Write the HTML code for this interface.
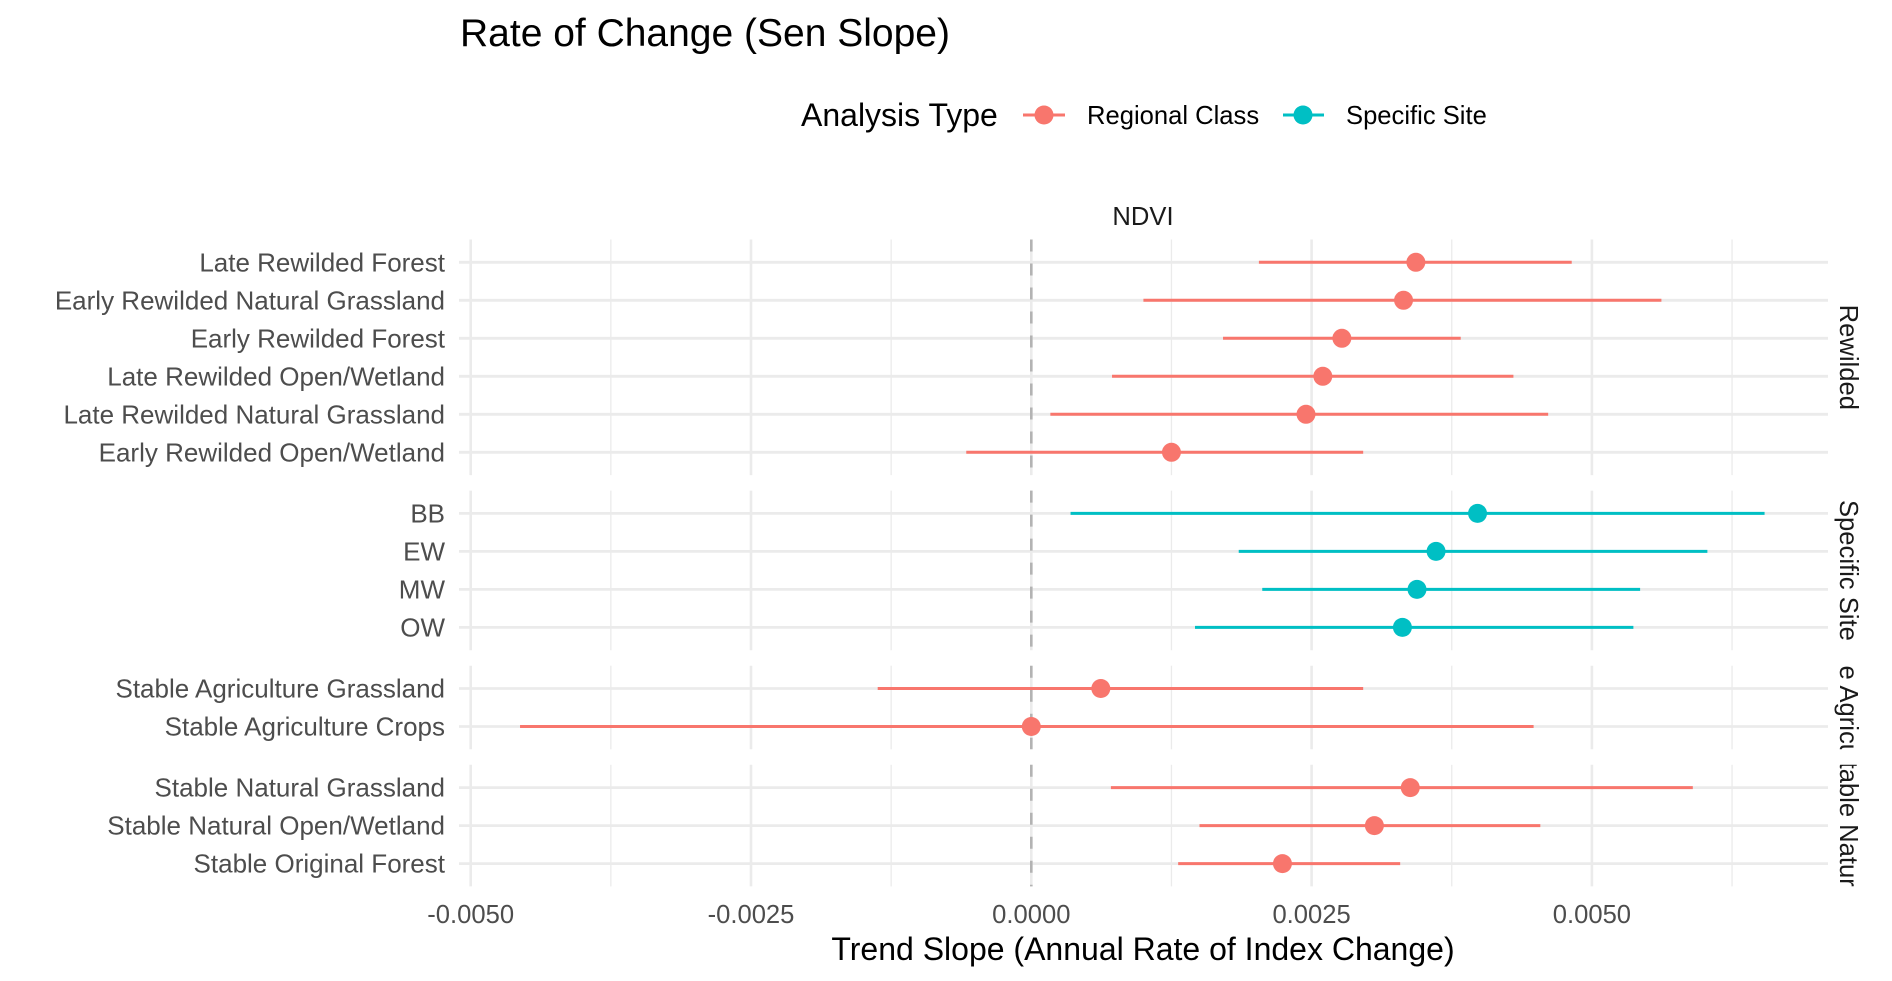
<!DOCTYPE html>
<html><head><meta charset="utf-8"><style>
html,body{margin:0;padding:0;background:#fff;}
svg{display:block;font-family:"Liberation Sans",Arial,sans-serif;}
</style></head><body>
<svg id="chart" width="1892" height="981" viewBox="0 0 1892 981" xmlns="http://www.w3.org/2000/svg">
<text x="460" y="46" font-size="39" fill="#000">Rate of Change (Sen Slope)</text>
<g>
<text x="801" y="126" font-size="32" fill="#000">Analysis Type</text>
<g>
<line x1="1023" y1="115" x2="1065" y2="115" stroke="#F8766D" stroke-width="3"/>
<circle cx="1044" cy="115" r="9.5" fill="#F8766D"/>
<text x="1087" y="124" font-size="25.6" fill="#000">Regional Class</text>
</g>
<g>
<line x1="1283" y1="115" x2="1324" y2="115" stroke="#00BFC4" stroke-width="3"/>
<circle cx="1303" cy="115" r="9.5" fill="#00BFC4"/>
<text x="1346" y="124" font-size="25.6" fill="#000">Specific Site</text>
</g>
</g>
<text x="1143" y="225" font-size="25.6" text-anchor="middle" fill="#1a1a1a">NDVI</text>
<g id="plot"></g>
<text x="1143" y="960" font-size="32" text-anchor="middle" fill="#000">Trend Slope (Annual Rate of Index Change)</text>
</svg>
<script>
const groups = ["Rewilded", "Specific Site", "Stable Agriculture", "Stable Natural"];
const categories = [
 ["Late Rewilded Forest","Early Rewilded Natural Grassland","Early Rewilded Forest","Late Rewilded Open/Wetland","Late Rewilded Natural Grassland","Early Rewilded Open/Wetland"],
 ["BB","EW","MW","OW"],
 ["Stable Agriculture Grassland","Stable Agriculture Crops"],
 ["Stable Natural Grassland","Stable Natural Open/Wetland","Stable Original Forest"]
];
const slopes = [
 [0.00343,0.00332,0.00277,0.00260,0.00245,0.00125],
 [0.00398,0.00361,0.00344,0.00331],
 [0.00062,0.0],
 [0.00338,0.00306,0.00224]
];
const lowers = [
 [0.00203,0.00100,0.00171,0.00072,0.00017,-0.00058],
 [0.00035,0.00185,0.00206,0.00146],
 [-0.00137,-0.00456],
 [0.00071,0.00150,0.00131]
];
const uppers = [
 [0.00482,0.00562,0.00383,0.00430,0.00461,0.00296],
 [0.00654,0.00603,0.00543,0.00537],
 [0.00296,0.00448],
 [0.00590,0.00454,0.00329]
];
const seriesType = ["Regional Class","Specific Site","Regional Class","Regional Class"];
const xTicks = [-0.005,-0.0025,0,0.0025,0.005];
const xTickLabels = ["-0.0050","-0.0025","0.0000","0.0025","0.0050"];
const xMinor = [-0.00375,-0.00125,0.00125,0.00375,0.00625];

const NS="http://www.w3.org/2000/svg";
const plot=document.getElementById('plot');
const PL=459, PR=1828;
function xs(v){return 1031.3 + v*112120;}
const colors={"Regional Class":"#F8766D","Specific Site":"#00BFC4"};
const STEP=38, PAD=22.8, GAP=15.5;
function mk(tag,attrs,parent){const e=document.createElementNS(NS,tag);for(const k in attrs)e.setAttribute(k,attrs[k]);(parent||plot).appendChild(e);return e;}
let yTop=239.5;
const defs=mk('defs',{});
groups.forEach((g,gi)=>{
  const n=categories[gi].length;
  const h=(n-1)*STEP+2*PAD;
  const bottom=yTop+h;
  const panel=mk('g',{});
  
  
  xMinor.forEach(v=>{const l=mk('line',{x1:xs(v),x2:xs(v),y1:yTop,y2:bottom,stroke:'#ebebeb','stroke-width':1.3},panel);
    
    });
  xTicks.forEach(v=>{const l=mk('line',{x1:xs(v),x2:xs(v),y1:yTop,y2:bottom,stroke:'#ebebeb','stroke-width':2.6},panel);
    
    });
  categories[gi].forEach((c,i)=>{
    const y=yTop+PAD+i*STEP;
    const gl=mk('line',{x1:PL,x2:PR,y1:y,y2:y,stroke:'#ebebeb','stroke-width':2.8},panel);
    
    
  });
  const z=mk('line',{x1:xs(0),x2:xs(0),y1:yTop,y2:bottom,stroke:'#b3b3b3','stroke-width':2.6,'stroke-dasharray':'12,12'},panel);
  
  
  categories[gi].forEach((c,i)=>{
    const y=yTop+PAD+i*STEP;
    const col=colors[seriesType[gi]];
    const lab=mk('text',{x:445,y:y+9,'font-size':26,'text-anchor':'end',fill:'#4d4d4d'},panel);
    lab.textContent=c;
    
    
    const eb=mk('line',{x1:xs(lowers[gi][i]),x2:xs(uppers[gi][i]),y1:y,y2:y,stroke:col,'stroke-width':3},panel);
    
    
    const pt=mk('circle',{cx:xs(slopes[gi][i]),cy:y,r:9.5,fill:col},panel);
    
    
  });
  const cid='clip'+gi;
  const cp=mk('clipPath',{id:cid},defs);
  mk('rect',{x:1830,y:yTop,width:62,height:h},cp);
  const cy=(yTop+bottom)/2;
  const cg=mk('g',{'clip-path':'url(#'+cid+')'},panel);
  const st=mk('text',{x:1848,y:cy,'font-size':25.6,'text-anchor':'middle','dominant-baseline':'central',fill:'#1a1a1a',transform:'rotate(90 1848 '+cy+')'},cg);
  st.textContent=g;
  
  
  yTop=bottom+GAP;
});
xTicks.forEach((v,i)=>{
  const t=mk('text',{x:xs(v),y:923,'font-size':25.6,'text-anchor':'middle',fill:'#4d4d4d'});
  t.textContent=xTickLabels[i];
  
  
});
</script>
</body></html>
